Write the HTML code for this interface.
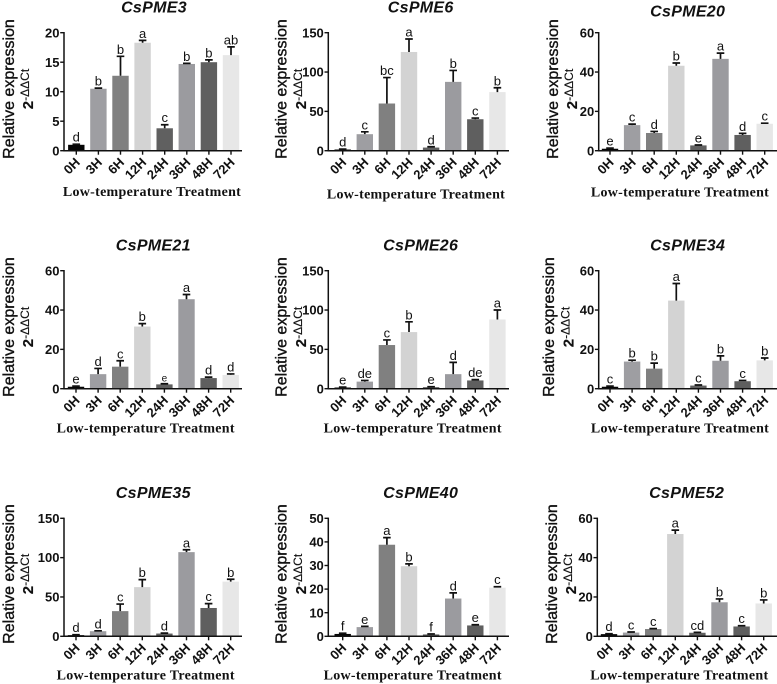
<!DOCTYPE html>
<html lang="en">
<head>
<meta charset="utf-8">
<title>CsPME relative expression under low-temperature treatment</title>
<style>
html,body{margin:0;padding:0;background:#fff}
svg{display:block;filter:blur(.3px)}
text{fill:#111}
.title{font:italic bold 16px "Liberation Sans",sans-serif;text-anchor:middle;letter-spacing:.3px}
.ytick{font:bold 13px "Liberation Sans",sans-serif;text-anchor:end}
.xtick{font:bold 13px "Liberation Sans",sans-serif;text-anchor:end}
.ytitle{font:16px "Liberation Sans",sans-serif;text-anchor:middle;stroke:#111;stroke-width:.35px}
.ysub{font:12px "Liberation Sans",sans-serif;text-anchor:middle;stroke:#111;stroke-width:.15px}
.xtitle{font:bold 14px "Liberation Serif",serif;text-anchor:middle;letter-spacing:.28px}
.sig{font:13px "Liberation Sans",sans-serif;text-anchor:middle}
</style>
</head>
<body>
<svg id="figure" xmlns="http://www.w3.org/2000/svg" width="777" height="684" viewBox="0 0 777 684"></svg>
<script>
const categories = ['0H','3H','6H','12H','24H','36H','48H','72H'];

const pme3Values = [1,10.5,12.7,18.3,3.8,14.7,15,16.2];
const pme3Upper = [1.1,10.6,16,18.7,4.4,14.8,15.4,17.6];
const pme3Letters = ['d','b','b','a','c','b','b','ab'];
const pme3Ticks = [0,5,10,15,20];

const pme6Values = [1.5,21,60,125.5,4,87.5,40,74.5];
const pme6Upper = [2,24,93,142,5,102,41.5,80];
const pme6Letters = ['d','c','bc','a','d','b','c','b'];
const pme6Ticks = [0,50,100,150];

const pme20Values = [1,13,9,43.2,2.7,46.7,8,13.7];
const pme20Upper = [1.3,13.5,9.8,44.6,2.9,49.6,8.8,14];
const pme20Letters = ['e','c','d','b','e','a','d','c'];
const pme20Ticks = [0,20,40,60];

const pme21Values = [1,7.4,11.2,31.6,2.2,45.5,5.4,7];
const pme21Upper = [1.3,10.3,14.2,33.1,2.5,47.9,5.9,7.5];
const pme21Letters = ['e','d','c','b','e','a','d','d'];
const pme21Ticks = [0,20,40,60];

const pme26Values = [1.5,9,55.5,72,2,18.5,10.5,88];
const pme26Upper = [2,10.5,62,85,2.5,33.5,11.5,100];
const pme26Letters = ['e','de','c','b','e','d','de','a'];
const pme26Ticks = [0,50,100,150];

const pme34Values = [1,13.8,10.2,44.8,1.6,14.2,3.8,14.4];
const pme34Upper = [1.3,14.5,13,53.5,1.9,16.7,4.2,15.6];
const pme34Letters = ['c','b','b','a','c','b','c','b'];
const pme34Ticks = [0,20,40,60];

const pme35Values = [1.5,6.5,32,62.5,3.5,107,36,69.5];
const pme35Upper = [2,7,41,72,4,110,41.5,72.5];
const pme35Letters = ['d','d','c','b','d','a','c','b'];
const pme35Ticks = [0,50,100,150];

const pme40Values = [1,3.9,38.8,29.7,0.8,16,4.6,20.6];
const pme40Upper = [1.3,4.2,41.8,30.7,1,18.4,4.9,21];
const pme40Letters = ['f','e','a','b','f','d','e','c'];
const pme40Ticks = [0,10,20,30,40,50];

const pme52Values = [1.1,1.9,3.7,52,1.8,17.3,5,16.7];
const pme52Upper = [1.3,2.2,3.9,54,2,19,5.4,18.5];
const pme52Letters = ['d','c','c','a','cd','b','c','b'];
const pme52Ticks = [0,20,40,60];

const barColors = ['#050505','#9e9ea2','#808080','#d3d3d3','#606060','#9b9b9f','#5f5f5f','#e7e7e7'];

const panels = [
 {gene:'CsPME3', slug:'cspme3', values:pme3Values, upper:pme3Upper, letters:pme3Letters, ticks:pme3Ticks, ax:64, top:32.7, bottom:150.7, b0:76.3, right:242, tcx:154, tby:12.7, ytx:14, yty:89, ysx:33, xcx:152, xby:196},
 {gene:'CsPME6', slug:'cspme6', values:pme6Values, upper:pme6Upper, letters:pme6Letters, ticks:pme6Ticks, ax:328.3, top:32.7, bottom:150.7, b0:342.7, right:509, tcx:420.7, tby:12.7, ytx:286.5, yty:89, ysx:306, xcx:416, xby:198.5},
 {gene:'CsPME20', slug:'cspme20', values:pme20Values, upper:pme20Upper, letters:pme20Letters, ticks:pme20Ticks, ax:598.7, top:32.7, bottom:150.7, b0:610, right:777, tcx:687.7, tby:16.7, ytx:558, yty:89, ysx:577, xcx:680, xby:196.5},
 {gene:'CsPME21', slug:'cspme21', values:pme21Values, upper:pme21Upper, letters:pme21Letters, ticks:pme21Ticks, ax:64, top:270.7, bottom:388.7, b0:76, right:242, tcx:153.3, tby:250.7, ytx:14, yty:327, ysx:33, xcx:145.7, xby:432.3, smallLetter:4},
 {gene:'CsPME26', slug:'cspme26', values:pme26Values, upper:pme26Upper, letters:pme26Letters, ticks:pme26Ticks, ax:328.3, top:270.7, bottom:388.7, b0:342.7, right:509, tcx:420.7, tby:250.7, ytx:286.5, yty:327, ysx:306, xcx:412.7, xby:432.3},
 {gene:'CsPME34', slug:'cspme34', values:pme34Values, upper:pme34Upper, letters:pme34Letters, ticks:pme34Ticks, ax:598.7, top:270.7, bottom:388.7, b0:610, right:777, tcx:687.7, tby:250.7, ytx:554, yty:327, ysx:573.5, xcx:680, xby:432.3},
 {gene:'CsPME35', slug:'cspme35', values:pme35Values, upper:pme35Upper, letters:pme35Letters, ticks:pme35Ticks, ax:64, top:518.3, bottom:636.3, b0:76, right:242, tcx:153.3, tby:498, ytx:14, yty:574, ysx:33, xcx:145.7, xby:679.7},
 {gene:'CsPME40', slug:'cspme40', values:pme40Values, upper:pme40Upper, letters:pme40Letters, ticks:pme40Ticks, ax:328.3, top:518.3, bottom:636.3, b0:342.7, right:509, tcx:420.7, tby:498, ytx:286.5, yty:574, ysx:306, xcx:412.7, xby:679.7},
 {gene:'CsPME52', slug:'cspme52', values:pme52Values, upper:pme52Upper, letters:pme52Letters, ticks:pme52Ticks, ax:597.3, top:518.3, bottom:636.3, b0:609, right:777, tcx:686.7, tby:498, ytx:557, yty:574, ysx:576, xcx:679.3, xby:679.7}
];

const NS = 'http://www.w3.org/2000/svg';
const STEP = 22.1;
const BAR_W = 16.4;
const root = document.getElementById('figure');

function make(parent, tag, attrs, txt){
  const el = document.createElementNS(NS, tag);
  for (const k in attrs) el.setAttribute(k, attrs[k]);
  if (txt !== undefined) el.textContent = txt;
  parent.appendChild(el);
  return el;
}

panels.forEach(function(p){
  const maxV = p.ticks[p.ticks.length - 1];
  const yScale = function(v){ return p.bottom - (v / maxV) * (p.bottom - p.top); };
  const xScale = function(i){ return p.b0 + i * STEP; };

  const g = make(root, 'g', {});
  
  

  const title = make(g, 'text', {class:'title', x:p.tcx, y:p.tby}, p.gene);
  
  

  p.values.forEach(function(v, i){
    const bar = make(g, 'rect', {x:xScale(i) - BAR_W / 2, y:yScale(v), width:BAR_W, height:p.bottom - yScale(v), fill:barColors[i]});
    
    

    const cx = xScale(i);
    const ty = yScale(p.upper[i]);
    const err = make(g, 'path', {d:'M' + cx + ' ' + yScale(v) + 'V' + ty + 'M' + (cx - 3.8) + ' ' + ty + 'H' + (cx + 3.8), stroke:'#111', 'stroke-width':1.7, fill:'none'});
    
    

    const sig = make(g, 'text', {class:'sig', x:cx, y:ty - 2.5}, p.letters[i]);
    if (p.smallLetter === i) sig.setAttribute('style', 'font-size:10px');
    
    

    const tick = make(g, 'line', {x1:cx, x2:cx, y1:p.bottom, y2:p.bottom + 4, stroke:'#111', 'stroke-width':1.4});
    
    

    const lx = cx + 4.5;
    const ly = p.bottom + 12.5;
    const lab = make(g, 'text', {class:'xtick', x:lx, y:ly, transform:'rotate(-45 ' + lx + ' ' + ly + ')'}, categories[i]);
    
    
  });

  const axes = make(g, 'path', {d:'M' + p.ax + ' ' + (p.top - .7) + 'V' + p.bottom + 'H' + p.right, stroke:'#111', 'stroke-width':1.5, fill:'none'});
  
  

  p.ticks.forEach(function(t){
    const y = yScale(t);
    const tk = make(g, 'line', {x1:p.ax - 3.8, x2:p.ax, y1:y, y2:y, stroke:'#111', 'stroke-width':1.4});
    
    
    const lb = make(g, 'text', {class:'ytick', x:p.ax - 4.5, y:y + 4.6}, String(t));
    
    
  });

  const yt = make(g, 'text', {class:'ytitle', x:p.ytx, y:p.yty, transform:'rotate(-90 ' + p.ytx + ' ' + p.yty + ')'}, 'Relative expression');
  
  

  const ys = make(g, 'text', {class:'ysub', x:p.ysx, y:p.yty, transform:'rotate(-90 ' + p.ysx + ' ' + p.yty + ')'});
  
  
  make(ys, 'tspan', {style:'font-size:15px;font-weight:bold'}, '2');
  make(ys, 'tspan', {dy:'-4'}, '-ΔΔCt');

  const xt = make(g, 'text', {class:'xtitle', x:p.xcx, y:p.xby}, 'Low-temperature Treatment');
  
  
});
</script>
</body>
</html>
